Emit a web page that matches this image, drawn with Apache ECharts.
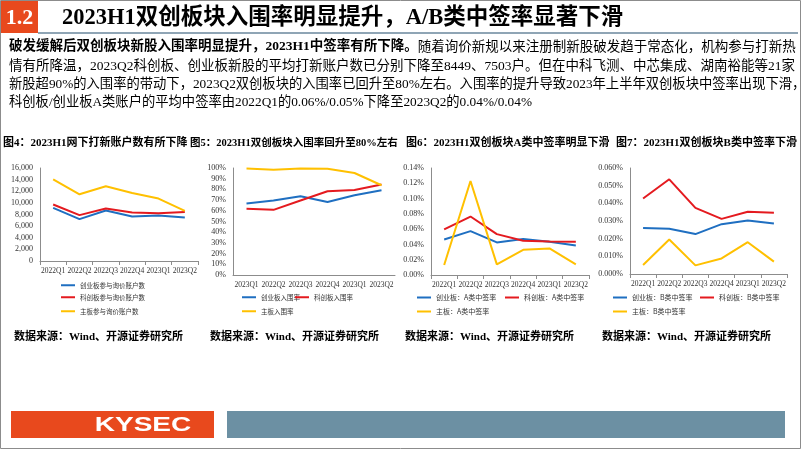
<!DOCTYPE html>
<html><head><meta charset="utf-8">
<script src="https://cdn.jsdelivr.net/npm/echarts@6/dist/echarts.min.js"></script>
<style>html,body{margin:0;padding:0;background:#fff}#c{width:802px;height:451px}</style>
</head><body><div id="c"></div>
<script>
// ---- data ----
const cats1 = ['2022Q1','2022Q2','2022Q3','2022Q4','2023Q1','2023Q2'];
const cats2 = ['2023Q1','2022Q2','2022Q3','2022Q4','2023Q1','2023Q2'];
// 图4 账户数
const accCYB = [9140, 7200, 8690, 7660, 7830, 7503];
const accKCB = [9720, 7890, 9030, 8350, 8230, 8449];
const accZB  = [14050, 11480, 12850, 11700, 10740, 8620];
// 图5 入围率 (%)
const rateCYB = [66.8, 69.6, 73.6, 68.3, 74.5, 79.2];
const rateKCB = [61.8, 60.9, 69.6, 78.3, 79.5, 84.5];
const rateZB  = [99.5, 98.4, 99.5, 99.2, 95.3, 83.9];
// 图6 A类中签率 (%)
const aCYB = [0.0465, 0.0574, 0.0426, 0.0470, 0.0435, 0.0387];
const aKCB = [0.0596, 0.0765, 0.0535, 0.0448, 0.0439, 0.0435];
const aZB  = [0.0130, 0.1230, 0.0139, 0.0330, 0.0348, 0.0139];
// 图7 B类中签率 (%)
const bCYB = [0.0261, 0.0256, 0.0226, 0.0282, 0.0303, 0.0286];
const bKCB = [0.0427, 0.0536, 0.0374, 0.0312, 0.0352, 0.0346];
const bZB  = [0.0051, 0.0195, 0.0049, 0.0088, 0.0180, 0.0070];

const names1 = ['创业板参与询价账户数','科创板参与询价账户数','主板参与询价账户数'];
const names2 = ['创业板入围率','科创板入围率','主板入围率'];
const names3 = ['创业板：A类中签率','科创板：A类中签率','主板：A类中签率'];
const names4 = ['创业板：B类中签率','科创板：B类中签率','主板：B类中签率'];

const figTitles = ['图4：2023H1网下打新账户数有所下降','图5：2023H1双创板块入围率回升至80%左右','图6：2023H1双创板块A类中签率明显下滑','图7：2023H1双创板块B类中签率下滑'];
const sourceText = '数据来源：Wind、开源证券研究所';
const headTitle = '2023H1双创板块入围率明显提升，A/B类中签率显著下滑';
const bodyLines = [
  '随着询价新规以来注册制新股破发趋于常态化，机构参与打新热',
  '情有所降温，2023Q2科创板、创业板新股的平均打新账户数已分别下降至8449、7503户。但在中科飞测、中芯集成、湖南裕能等21家',
  '新股超90%的入围率的带动下，2023Q2双创板块的入围率已回升至80%左右。入围率的提升导致2023年上半年双创板块中签率出现下滑，',
  '科创板/创业板A类账户的平均中签率由2022Q1的0.06%/0.05%下降至2023Q2的0.04%/0.04%'
];
const bodyBold = '破发缓解后双创板块新股入围率明显提升，2023H1中签率有所下降。';

// ---- styling ----
const BLUE = '#1f6fc1', RED = '#e41a1f', YEL = '#ffc000';
const colors = [BLUE, RED, YEL];
const FF = '"Liberation Serif","Noto Sans CJK SC",serif';
const FC = '"Noto Sans CJK SC","Liberation Serif",serif';
const BODYF = '"Liberation Serif","Noto Sans CJK SC"';

const grids = [
  {left:40, top:168, width:158, height:93},
  {left:233, top:168, width:162, height:107},
  {left:431, top:168, width:158, height:107},
  {left:630, top:168, width:157, height:106}
];
const yCfg = [
  {max:16000, interval:2000, fmt:v=>v.toLocaleString('en-US')},
  {max:100, interval:10, fmt:v=>Math.round(v)+'%'},
  {max:0.14, interval:0.02, fmt:v=>v.toFixed(2)+'%'},
  {max:0.06, interval:0.01, fmt:v=>v.toFixed(3)+'%'}
];
const showXTick = [true,false,true,true];
const catsList = [cats1,cats2,cats1,cats1];
const namesList = [names1,names2,names3,names4];
const dataList = [[accCYB,accKCB,accZB],[rateCYB,rateKCB,rateZB],[aCYB,aKCB,aZB],[bCYB,bKCB,bZB]];

const xAxis = [], yAxis = [], series = [], legend = [];
grids.forEach((g,i)=>{
  g.outerBoundsMode = 'none';
  xAxis.push({type:'category', gridIndex:i, data:catsList[i], boundaryGap:true,
    axisLine:{lineStyle:{color:'#8c8c8c'}},
    axisTick:{show:showXTick[i], length:4, lineStyle:{color:'#8c8c8c'}},
    axisLabel:{interval:0, fontSize:7.5, fontFamily:FF, color:'#333', margin:6}});
  yAxis.push({type:'value', gridIndex:i, min:0, max:yCfg[i].max, interval:yCfg[i].interval,
    axisLine:{show:true, lineStyle:{color:'#8c8c8c'}}, axisTick:{show:false}, splitLine:{show:false},
    axisLabel:{fontSize:8, fontFamily:FF, color:'#333', margin:7, formatter:yCfg[i].fmt}});
  dataList[i].forEach((d,k)=>{
    series.push({type:'line', name:namesList[i][k], xAxisIndex:i, yAxisIndex:i, data:d,
      symbol:'none', lineStyle:{width:2, color:colors[k]}, itemStyle:{color:colors[k]}});
  });
});
// legend positions [x, y]
const legPos = [
  [[61,287],[61,299],[61,313]],
  [[242,299],[295,299],[242,313]],
  [[417,299],[505,299],[417,313]],
  [[613,299],[700,299],[613,313]]
];
const legFont = [6.5, 6.5, 7, 7];
legPos.forEach((row,i)=>row.forEach((p,k)=>{
  legend.push({data:[namesList[i][k]], left:p[0], top:p[1]-5, padding:0, icon:'rect', itemWidth:14, itemHeight:2,
    selectedMode:false, textStyle:{fontSize:legFont[i], fontFamily:FC, color:'#333'}});
}));

const graphic = [
  {type:'rect', shape:{x:0.5, y:0.5, width:800, height:448}, style:{fill:null, stroke:'#8c8c8c', lineWidth:1}, z:-10},
  {type:'rect', shape:{x:1, y:1, width:37, height:32}, style:{fill:'#e8491d'}},
  {type:'text', x:19.5, y:18, style:{text:'1.2', fill:'#fff', font:'bold 22px "Liberation Serif"', align:'center', verticalAlign:'middle'}},
  {type:'line', shape:{x1:38, y1:33, x2:798, y2:33}, style:{stroke:'#8fa5b5', lineWidth:2}},
  {type:'text', x:62, y:18, style:{text:headTitle, fill:'#000', font:'bold 22.5px ' + BODYF, verticalAlign:'middle'}},
  {type:'text', x:9, y:47, style:{text:'{b|'+bodyBold+'}'+bodyLines[0], font:'13.5px ' + BODYF, fill:'#000', verticalAlign:'middle',
    rich:{b:{fontWeight:'bold', fontSize:13.5, fontFamily:BODYF}}}},
  {type:'text', x:9, y:66, style:{text:bodyLines[1], font:'13.5px ' + BODYF, fill:'#000', verticalAlign:'middle'}},
  {type:'text', x:9, y:85, style:{text:bodyLines[2], font:'13.3px ' + BODYF, fill:'#000', verticalAlign:'middle'}},
  {type:'text', x:9, y:103, style:{text:bodyLines[3], font:'13.3px ' + BODYF, fill:'#000', verticalAlign:'middle'}},
  {type:'rect', shape:{x:11, y:411, width:203, height:27}, style:{fill:'#e8491d'}},
  {type:'rect', shape:{x:227, y:411, width:558, height:27}, style:{fill:'#6c90a3'}},
  {type:'text', x:143, y:425, scaleX:1.4, style:{text:'KYSEC', fill:'#fff', font:'bold 20px "Liberation Sans","DejaVu Sans"', align:'center', verticalAlign:'middle'}}
];
const titleX = [3, 190, 406, 616];
const titleF = [11, 10.5, 11, 11];
titleX.forEach((x,i)=>graphic.push({type:'text', x:x, y:143, style:{text:figTitles[i], fill:'#000', font:'bold '+titleF[i]+'px ' + BODYF, verticalAlign:'middle'}}));
const srcX = [14, 210, 405, 602];
srcX.forEach(x=>graphic.push({type:'text', x:x, y:337, style:{text:sourceText, fill:'#000', font:'bold 11px ' + BODYF, verticalAlign:'middle'}}));

const chart = echarts.init(document.getElementById('c'), null, {renderer:'canvas'});
chart.setOption({backgroundColor:'#fff', animation:false, grid:grids, xAxis, yAxis, series, legend, graphic});
</script></body></html>
